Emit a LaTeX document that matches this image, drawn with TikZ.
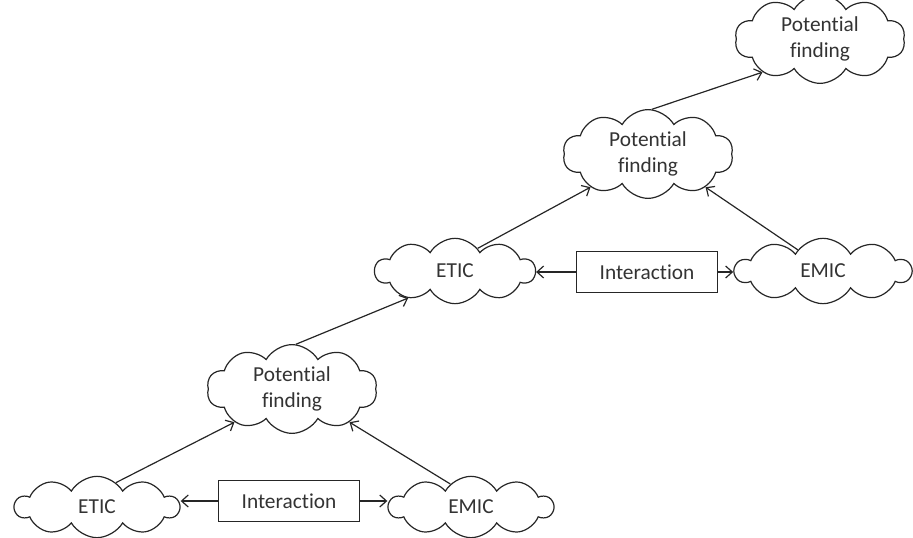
\documentclass[tikz,border=0pt]{standalone}
\usepackage{fontspec}
\setmainfont{Carlito}[Ligatures=CommonOff]
\usetikzlibrary{shapes.symbols,arrows.meta}
\begin{document}
\begin{tikzpicture}[x=0.75pt,y=-0.75pt,
  cloudnode/.style={cloud, draw=black!85, line width=0.9pt, cloud puffs=10, cloud puff arc=120, aspect=2.7,
    minimum width=123pt, minimum height=46pt, inner sep=0pt, align=center,
    font=\fontsize{16}{19}\selectfont, text=black!80},
  pfnode/.style={cloudnode, minimum width=125pt, minimum height=48pt},
  boxnode/.style={draw=black!85, line width=0.9pt, minimum width=106pt, minimum height=31pt, inner sep=0pt,
    font=\fontsize{16}{19}\selectfont, text=black!80},
  arr/.style={-{Straight Barb[length=5pt,width=9pt]}, line width=0.9pt, draw=black!85}]
\useasboundingbox (0,0) rectangle (913,538);
% nodes
\node[cloudnode] (etic1) at (97,507) {ETIC};
\node[boxnode]   (int1)  at (289,501) {Interaction};
\node[cloudnode] (emic1) at (471,507) {EMIC};
\node[pfnode]    (pf1)   at (292,389) {Potential\\finding};
\node[cloudnode, minimum width=120pt, minimum height=49pt] (etic2) at (455,271) {ETIC};
\node[boxnode]   (int2)  at (647,272) {Interaction};
\node[cloudnode, minimum width=132pt, minimum height=49pt] (emic2) at (823,271) {EMIC};
\node[pfnode]    (pf2)   at (648,154) {Potential\\finding};
\node[pfnode]    (pf3)   at (820,39)  {Potential\\finding};
% connectors
\draw[arr] (int1.west) -- (etic1.east |- int1.west);
\draw[arr] (int1.east) -- (emic1.west |- int1.east);
\draw[arr] (int2.west) -- (etic2.east |- int2.west);
\draw[arr] (int2.east) -- (emic2.west |- int2.east);
\draw[arr] (etic1.52) -- (pf1.210);
\draw[arr] (emic1.132) -- (pf1.330);
\draw[arr] (pf1.85) -- (etic2.210);
\draw[arr] (etic2.45) -- (pf2.210);
\draw[arr] (emic2.140) -- (pf2.330);
\draw[arr] (pf2.85) -- (pf3.210);
\end{tikzpicture}
\end{document}
